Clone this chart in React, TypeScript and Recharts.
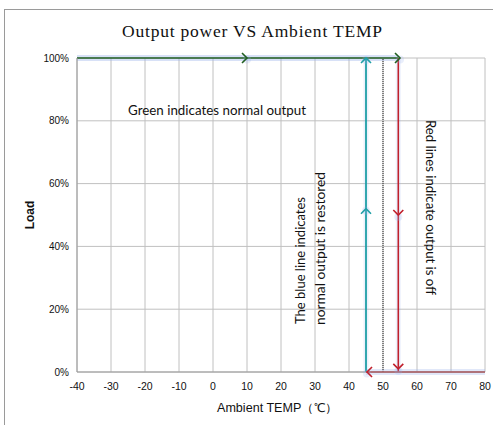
import React from "react";
import {
  ComposedChart,
  Line,
  Scatter,
  XAxis,
  YAxis,
  CartesianGrid,
} from "recharts";

// Axis ticks
const tempTicks = [-40, -30, -20, -10, 0, 10, 20, 30, 40, 50, 60, 70, 80];
const loadTicks = [0, 20, 40, 60, 80, 100];

// Series
const greenLine = [
  { t: -40, load: 100 },
  { t: 54.5, load: 100 },
];
const redDownLine = [
  { t: 54.5, load: 100 },
  { t: 54.5, load: 0 },
];
const redBottomLine = [
  { t: 45, load: 0 },
  { t: 80, load: 0 },
];
const tealLine = [
  { t: 45, load: 0 },
  { t: 45, load: 100 },
];
const dottedLine = [
  { t: 50, load: 0 },
  { t: 50, load: 100 },
];

// Arrow heads
const arrowsRight = [
  { t: 10, load: 100 },
  { t: 55, load: 100 },
];
const arrowsUp = [
  { t: 45, load: 100 },
  { t: 45, load: 52 },
];
const arrowsDown = [
  { t: 54.5, load: 50 },
  { t: 54.5, load: 1 },
];
const arrowsLeft = [{ t: 45.3, load: 0 }];

const GREEN = "#215f21";
const TEAL = "#1e9fa6";
const RED = "#c0202c";
const GLOW = "#9db3ec";

const makeArrow = (dir: string, color: string) => (props: any) => {
  const { cx, cy } = props;
  if (cx == null || cy == null) return <g />;
  const s = 5;
  let d = "";
  if (dir === "right") d = `M${cx - s},${cy - s} L${cx},${cy} L${cx - s},${cy + s}`;
  if (dir === "left") d = `M${cx + s},${cy - s} L${cx},${cy} L${cx + s},${cy + s}`;
  if (dir === "up") d = `M${cx - s},${cy + s} L${cx},${cy} L${cx + s},${cy + s}`;
  if (dir === "down") d = `M${cx - s},${cy - s} L${cx},${cy} L${cx + s},${cy - s}`;
  return (
    <g>
      <circle cx={cx} cy={cy + (dir === "right" || dir === "left" ? 1.5 : 2)} r={4} fill={GLOW} fillOpacity={0.22} />
      <path d={d} fill="none" stroke={color} strokeWidth={1.6} />
    </g>
  );
};

const textFont = "Lato, 'Liberation Sans', sans-serif";

export default function App() {
  return (
    <div style={{ position: "absolute", left: 0, top: 0, width: 493, height: 425, background: "#fff" }}>
      <div
        style={{
          position: "absolute",
          left: 4,
          top: 9,
          width: 489,
          height: 416,
          borderLeft: "1px solid #9a9a9a",
          borderTop: "1px solid #9a9a9a",
          boxSizing: "border-box",
        }}
      />
      <div style={{ position: "absolute", left: 0, top: 0 }}>
        <ComposedChart
          width={493}
          height={425}
          margin={{ top: 58, right: 8, bottom: 23, left: 0 }}
        >
          <CartesianGrid stroke="#c0c0c0" strokeWidth={1} />
          <XAxis
            dataKey="t"
            type="number"
            domain={[-40, 80]}
            ticks={tempTicks}
            interval={0}
            height={30}
            tickSize={0}
            tickMargin={11}
            axisLine={{ stroke: "#9a9a9a" }}
            tick={{ fill: "#111", fontSize: 10.5, fontFamily: "'Liberation Sans', Arial, sans-serif" }}
            allowDuplicatedCategory={false}
          />
          <YAxis
            dataKey="load"
            type="number"
            domain={[0, 100]}
            ticks={loadTicks}
            interval={0}
            width={77}
            tickSize={0}
            tickMargin={8}
            axisLine={{ stroke: "#9a9a9a" }}
            tickFormatter={(v: number) => `${v}%`}
            tick={{ fill: "#111", fontSize: 10, fontFamily: "'Liberation Sans', Arial, sans-serif" }}
          />
          {/* glows */}
          <Line data={greenLine} dataKey="load" stroke={GLOW} strokeOpacity={0.4} strokeWidth={6} dot={false} isAnimationActive={false} />
          <Line data={redBottomLine} dataKey="load" stroke={GLOW} strokeOpacity={0.3} strokeWidth={6} dot={false} isAnimationActive={false} />
          <Line data={tealLine} dataKey="load" stroke={GLOW} strokeOpacity={0.18} strokeWidth={5} dot={false} isAnimationActive={false} />
          <Line data={redDownLine} dataKey="load" stroke={GLOW} strokeOpacity={0.18} strokeWidth={5} dot={false} isAnimationActive={false} />
          {/* main lines */}
          <Line data={dottedLine} dataKey="load" stroke="#222" strokeWidth={1} strokeDasharray="1 1" dot={false} isAnimationActive={false} />
          <Line data={greenLine} dataKey="load" stroke={GREEN} strokeWidth={1.6} dot={false} isAnimationActive={false} />
          <Line data={tealLine} dataKey="load" stroke={TEAL} strokeWidth={1.8} dot={false} isAnimationActive={false} />
          <Line data={redDownLine} dataKey="load" stroke={RED} strokeWidth={1.6} dot={false} isAnimationActive={false} />
          <Line data={redBottomLine} dataKey="load" stroke={RED} strokeWidth={1.6} dot={false} isAnimationActive={false} />
          {/* arrow heads */}
          <Scatter data={arrowsRight} dataKey="load" shape={makeArrow("right", GREEN)} isAnimationActive={false} />
          <Scatter data={arrowsUp} dataKey="load" shape={makeArrow("up", TEAL)} isAnimationActive={false} />
          <Scatter data={arrowsDown} dataKey="load" shape={makeArrow("down", RED)} isAnimationActive={false} />
          <Scatter data={arrowsLeft} dataKey="load" shape={makeArrow("left", RED)} isAnimationActive={false} />
        </ComposedChart>
      </div>
      <svg
        width={493}
        height={425}
        style={{ position: "absolute", left: 0, top: 0, pointerEvents: "none" }}
      >
        <text
          x={122}
          y={37}
          fontFamily="'Liberation Serif', 'DejaVu Serif', serif"
          fontSize={17.5}
          fill="#111"
          textLength={260}
          lengthAdjust="spacing"
        >
          Output power VS Ambient TEMP
        </text>
        <text
          x={128}
          y={115}
          fontFamily={textFont}
          fontSize={13}
          fill="#111"
          textLength={178}
          lengthAdjust="spacingAndGlyphs"
        >
          Green indicates normal output
        </text>
        <text
          x={0}
          y={0}
          transform="translate(305,324) rotate(-90)"
          fontFamily={textFont}
          fontSize={13}
          fill="#111"
          textLength={127}
          lengthAdjust="spacingAndGlyphs"
        >
          The blue line indicates
        </text>
        <text
          x={0}
          y={0}
          transform="translate(325,325) rotate(-90)"
          fontFamily={textFont}
          fontSize={13}
          fill="#111"
          textLength={153}
          lengthAdjust="spacingAndGlyphs"
        >
          normal output is restored
        </text>
        <text
          x={0}
          y={0}
          transform="translate(426,120) rotate(90)"
          fontFamily={textFont}
          fontSize={13}
          fill="#111"
          textLength={175}
          lengthAdjust="spacingAndGlyphs"
        >
          Red lines indicate output is off
        </text>
        <text
          x={0}
          y={0}
          transform="translate(34,215) rotate(-90)"
          textAnchor="middle"
          fontFamily="'Liberation Sans', Arial, sans-serif"
          fontSize={12}
          fontWeight="bold"
          fill="#111"
        >
          Load
        </text>
        <text
          x={217}
          y={412}
          fontFamily="'Liberation Sans', Arial, sans-serif"
          fontSize={12}
          fill="#111"
          textLength={121}
          lengthAdjust="spacingAndGlyphs"
          style={{ whiteSpace: "pre" }}
        >
          {"Ambient TEMP\uFF08\u2103\uFF09"}
        </text>
      </svg>
    </div>
  );
}
